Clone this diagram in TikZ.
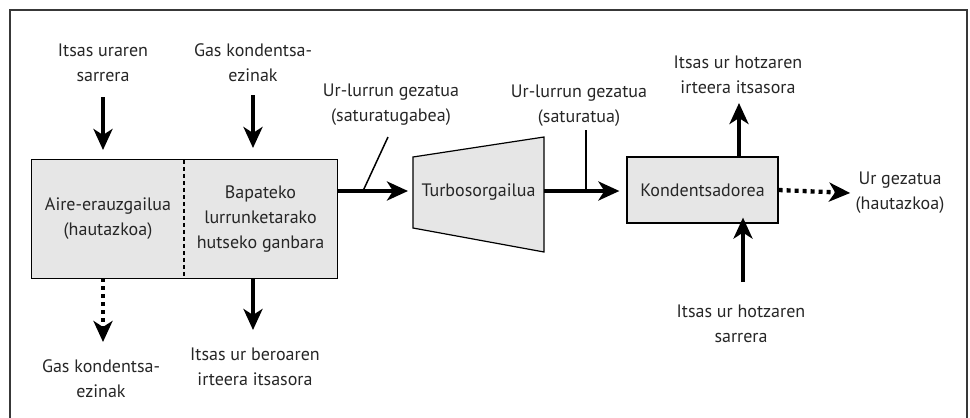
\documentclass[tikz,border=0pt]{standalone}
\usepackage{fontspec}
\setmainfont{PT Sans}
\usepackage{xcolor}
\usetikzlibrary{arrows.meta, positioning}
\definecolor{boxgray}{HTML}{E6E6E6}
\definecolor{framegray}{HTML}{383838}
\tikzset{
x=1pt, y=-1pt, % picture is laid out in pixel units, y going down
every node/.style={font=\fontsize{18}{25}\selectfont, text=black!85}, % text size of all labels
unit/.style={fill=boxgray, inner sep=0pt, align=center}, % the grey plant units
unitline/.style={line width=1.2pt}, % outline of the units
flow/.style={line width=4.3pt, -{Stealth[length=21pt, width=19pt, inset=6pt]}}, % thick flow arrows
dotflow/.style={flow, dash pattern=on 4pt off 4pt}, % optional flows
leader/.style={line width=1.5pt}, % lines from a flow to its label
txt/.style={align=center}, % the plain labels
}
\begin{document}
\begin{tikzpicture}
    \useasboundingbox (0,0) rectangle (970,418);
    \draw[framegray, line width=2pt] (10,418) -- (10,10) -- (967,10) -- (967,418);

    % the units
    \node[unit, minimum width=152pt, minimum height=118pt] (aire) at (108,219) {Aire-erauzgailua\\(hautazkoa)};
    \node[unit, minimum width=153pt, minimum height=118pt] (ganbara) at (260.5,219) {Bapateko\\lurrunketarako\\hutseko ganbara};
    \draw[unitline] (aire.north west) rectangle (ganbara.south east);
    \draw[line width=2pt, dash pattern=on 4pt off 3pt] (aire.north east) -- (aire.south east);

    \coordinate (tb1) at (413,157);
    \coordinate (tb2) at (544,137);
    \coordinate (tb3) at (544,252);
    \coordinate (tb4) at (413,228);
    \filldraw[fill=boxgray, unitline] (tb1) -- (tb2) -- (tb3) -- (tb4) -- cycle;
    \node (turbo) at (478.5,192) {Turbosorgailua};
    \coordinate (turboin) at (413,191);
    \coordinate (turboout) at (544,191);

    \node[unit, draw, unitline, minimum width=151pt, minimum height=66pt] (kond) at (702.5,190) {Kondentsadorea};

    % the labels
    \node[txt] (itsasin) at (103,63) {Itsas uraren\\sarrera};
    \node[txt] (gasin) at (253,63) {Gas kondentsa-\\ezinak};
    \node[txt] (gasout) at (101,379) {Gas kondentsa-\\ezinak};
    \node[txt] (beroout) at (255,367) {Itsas ur beroaren\\irteera itsasora};
    \node[txt] (lurrun1) at (391,105) {Ur-lurrun gezatua\\(saturatugabea)};
    \node[txt] (lurrun2) at (579,106) {Ur-lurrun gezatua\\(saturatua)};
    \node[txt] (hotzout) at (738,75) {Itsas ur hotzaren\\irteera itsasora};
    \node[txt] (hotzin) at (741,324) {Itsas ur hotzaren\\sarrera};
    \node[txt] (urgez) at (900,193) {Ur gezatua\\(hautazkoa)};

    % the flows
    \draw[flow] (103,97) -- (103,150);
    \draw[flow] (253,95) -- (253,148);
    \draw[dotflow] (aire.south -| 103,0) -- (103,342);
    \draw[flow] (ganbara.south -| 253,0) -- (253,330);
    \draw[flow] (ganbara.east |- turboin) -- ([xshift=-5pt]turboin);
    \draw[flow] (turboout) -- ([xshift=-7pt]kond.west |- turboout);
    \draw[flow] (kond.north -| 739,0) -- (739,103);
    \draw[flow] (743,282) -- ([yshift=6pt]kond.south -| 743,0);
    \draw[dotflow] (kond.east) -- ([xshift=-2pt]urgez.west);

    % leaders
    \coordinate (lead1) at (388,137);
    \coordinate (lead2) at (586,130);
    \draw[leader] (lead1) -- (363,191);
    \draw[leader] (lead2) -- (586,191);
\end{tikzpicture}
\end{document}
